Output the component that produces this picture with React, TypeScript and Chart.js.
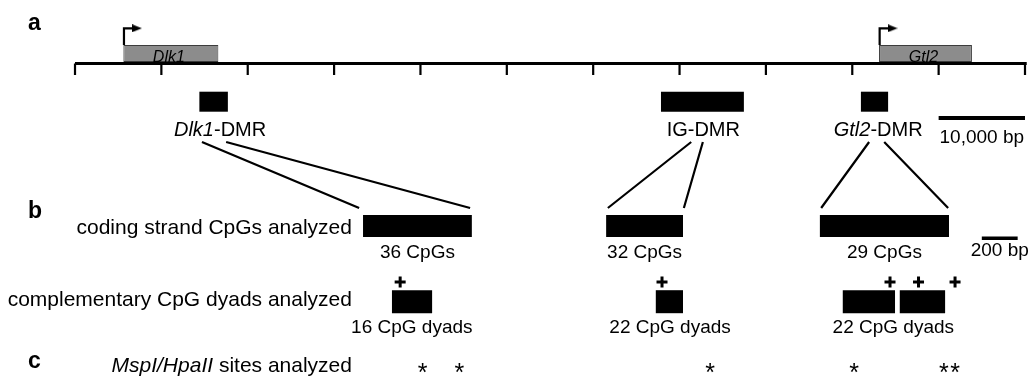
import React, { useEffect, useRef } from 'react';
import { Chart, registerables } from 'chart.js';

Chart.register(...registerables);

// ---------------- DATA (x values in kb along the panel-a ruler axis) ----------------
const rulerTicksKb = [0, 10, 20, 30, 40, 50, 60, 70, 80, 90, 100, 110];

const geneNames = ['Dlk1', 'Gtl2'];
const geneStartKb = [5.6, 93.1];
const geneEndKb = [16.6, 103.85];

const dmrNames = ['Dlk1-DMR', 'IG-DMR', 'Gtl2-DMR'];
const dmrStartKb = [14.4, 67.85, 91.0];
const dmrEndKb = [17.7, 77.45, 94.15];
const dmrLabelKb = [16.8, 72.75, 93.0];

const scaleBarKb = [100, 110];
const scaleBarLabel = '10,000 bp';

const connectorTopKb = [14.7, 17.5, 71.35, 72.7, 91.95, 93.7];
const connectorBottomKb = [32.9, 45.75, 61.7, 70.5, 86.4, 101.1];

const codingCounts = ['36 CpGs', '32 CpGs', '29 CpGs'];
const codingStartKb = [33.35, 61.5, 86.25];
const codingEndKb = [45.95, 70.4, 101.2];

const zoomBarKb = [105.0, 109.15];
const zoomBarLabel = '200 bp';

const dyadCounts = ['16 CpG dyads', '22 CpG dyads', '22 CpG dyads'];
const dyadStartKb = [36.7, 67.25, 88.9, 95.5];
const dyadEndKb = [41.35, 70.4, 94.95, 100.75];
const dyadLabelKb = [39.0, 68.9, 94.75];
const plusSitesKb = [37.65, 67.97, 94.37, 97.67, 101.9];

const mspSitesKb = [40.26, 44.5, 73.53, 90.2, 100.62, 101.9];

const panelLetters = ['a', 'b', 'c'];
const rowLabels = ['coding strand CpGs analyzed', 'complementary CpG dyads analyzed', 'MspI/HpaII sites analyzed'];
const rowLabelItalic = ['', '', 'MspI/HpaII'];

// ---------------- LAYOUT / STYLE ----------------
const W = 1031;
const H = 380;
const X_MIN = -8.685;
const X_MAX = 110.695;
const LETTER_KB = -5.44;
const ROW_LABEL_KB = 32.07;
const ARROW_X_KB = 0.07;
const ARROW_ARM_KB = 1.16;
const ARROW_HEAD_KB = 1.5;

const Y = {
  arrow: 28.3,
  geneTop: 45,
  gene: 53.5,
  geneLabel: 62,
  ruler: 63.5,
  tickEnd: 75,
  dmr: 101.7,
  dmrLabel: 136,
  scaleBar: 118,
  scaleLabel: 142.5,
  connTop: 142,
  connBottom: 208,
  coding: 226,
  codingCount: 257.5,
  zoomBar: 238.3,
  zoomLabel: 255.5,
  plus: 282,
  dyad: 301.7,
  dyadCount: 333,
  msp: 368,
};
const letterY = [30, 218, 368];
const rowLabelY = [233.5, 306, 372];

const INK = '#000000';
const GENE_FILL = '#8c8c8c';
const GENE_EDGE = '#3c3c3c';
const FONT = "'Liberation Sans', Arial, Helvetica, sans-serif";

type Seg = { t: string; it?: boolean; bold?: boolean };

const fontOf = (s: Seg, size: number) => `${s.it ? 'italic ' : ''}${s.bold ? 'bold ' : ''}${size}px ${FONT}`;

function drawRich(ctx: CanvasRenderingContext2D, segs: Seg[], size: number, x: number, y: number, align: 'left' | 'center' | 'right') {
  const widths = segs.map((s) => {
    ctx.font = fontOf(s, size);
    return ctx.measureText(s.t).width;
  });
  const total = widths.reduce((a, b) => a + b, 0);
  let cx = align === 'center' ? x - total / 2 : align === 'right' ? x - total : x;
  ctx.textAlign = 'left';
  ctx.textBaseline = 'alphabetic';
  segs.forEach((s, i) => {
    ctx.font = fontOf(s, size);
    ctx.fillText(s.t, cx, y);
    cx += widths[i];
  });
}

function splitItalic(text: string, italicPart: string): Seg[] {
  if (italicPart && text.startsWith(italicPart)) {
    return [{ t: italicPart, it: true }, { t: text.slice(italicPart.length) }];
  }
  return [{ t: text }];
}

const gap = (x: number) => ({ x, y: null as any });

const textPlugin = {
  id: 'diagramText',
  afterDatasetsDraw(chart: any) {
    const ctx: CanvasRenderingContext2D = chart.ctx;
    const px = (v: number) => chart.scales.x.getPixelForValue(v);
    const py = (v: number) => chart.scales.y.getPixelForValue(v);
    ctx.save();
    ctx.fillStyle = INK;

    panelLetters.forEach((l, i) => drawRich(ctx, [{ t: l, bold: true }], 23, px(LETTER_KB), py(letterY[i]), 'left'));
    rowLabels.forEach((l, i) => drawRich(ctx, splitItalic(l, rowLabelItalic[i]), 21, px(ROW_LABEL_KB), py(rowLabelY[i]), 'right'));

    geneNames.forEach((g, i) =>
      drawRich(ctx, [{ t: g, it: true }], 16, px((geneStartKb[i] + geneEndKb[i]) / 2) - 2, py(Y.geneLabel), 'center'),
    );
    dmrNames.forEach((d, i) => {
      const gene = geneNames.find((g) => d.startsWith(g)) || '';
      drawRich(ctx, splitItalic(d, gene), 20, px(dmrLabelKb[i]), py(Y.dmrLabel), 'center');
    });
    drawRich(ctx, [{ t: scaleBarLabel }], 19, px((scaleBarKb[0] + scaleBarKb[1]) / 2), py(Y.scaleLabel), 'center');
    codingCounts.forEach((c, i) =>
      drawRich(ctx, [{ t: c }], 19, px((codingStartKb[i] + codingEndKb[i]) / 2), py(Y.codingCount), 'center'),
    );
    drawRich(ctx, [{ t: zoomBarLabel }], 19, px((zoomBarKb[0] + zoomBarKb[1]) / 2), py(Y.zoomLabel), 'center');
    dyadCounts.forEach((c, i) => drawRich(ctx, [{ t: c }], 19, px(dyadLabelKb[i]), py(Y.dyadCount), 'center'));

    // asterisks, vertically centred on the row
    ctx.font = `25px ${FONT}`;
    ctx.textAlign = 'center';
    ctx.textBaseline = 'alphabetic';
    const m = ctx.measureText('*');
    const shift = (m.actualBoundingBoxAscent - m.actualBoundingBoxDescent) / 2;
    mspSitesKb.forEach((s) => ctx.fillText('*', px(s), py(Y.msp) + shift));
    ctx.restore();
  },
};

export default function App() {
  const ref = useRef<HTMLCanvasElement | null>(null);

  useEffect(() => {
    if (!ref.current) return;

    const head = document.createElement('canvas');
    head.width = 10;
    head.height = 8;
    const hc = head.getContext('2d')!;
    hc.fillStyle = INK;
    hc.beginPath();
    hc.moveTo(0, 0);
    hc.lineTo(10, 4);
    hc.lineTo(0, 8);
    hc.closePath();
    hc.fill();

    const line = (data: any[], width: number, order = 1) => ({
      type: 'line',
      data,
      borderColor: INK,
      backgroundColor: INK,
      borderWidth: width,
      pointRadius: 0,
      pointHitRadius: 0,
      fill: false,
      tension: 0,
      spanGaps: false,
      borderCapStyle: 'butt',
      borderJoinStyle: 'miter',
      order,
    });

    const bars = (starts: number[], ends: number[], y: number, thickness: number, color: string, border = 0, order = 3) => ({
      type: 'bar',
      indexAxis: 'y',
      grouped: false,
      data: starts.map((s, i) => ({ x: [s, ends[i]], y })),
      barThickness: thickness,
      backgroundColor: color,
      borderColor: GENE_EDGE,
      borderWidth: border,
      borderSkipped: false,
      inflateAmount: 0,
      order,
    });

    const last = rulerTicksKb.length - 1;
    const datasets: any[] = [
      line([{ x: rulerTicksKb[0], y: Y.ruler }, { x: rulerTicksKb[last] + 0.2, y: Y.ruler }], 3, 0),
      line(rulerTicksKb.flatMap((t) => [{ x: t, y: Y.ruler }, { x: t, y: Y.tickEnd }, gap(t)]), 2.2, 0),
      line(
        geneStartKb.flatMap((s) => [
          { x: s + ARROW_X_KB, y: Y.geneTop },
          { x: s + ARROW_X_KB, y: Y.arrow },
          { x: s + ARROW_X_KB + ARROW_ARM_KB, y: Y.arrow },
          gap(s),
        ]),
        2.2,
        0,
      ),
      {
        type: 'scatter',
        data: geneStartKb.map((s) => ({ x: s + ARROW_X_KB + ARROW_HEAD_KB, y: Y.arrow })),
        pointStyle: head,
        pointRadius: 5,
        pointHitRadius: 0,
        showLine: false,
        order: 0,
      },
      line(
        connectorTopKb.flatMap((t, i) => [{ x: t, y: Y.connTop }, { x: connectorBottomKb[i], y: Y.connBottom }, gap(t)]),
        2.2,
        1,
      ),
      {
        type: 'scatter',
        data: plusSitesKb.map((x) => ({ x, y: Y.plus })),
        pointStyle: 'cross',
        pointRadius: 5.5,
        pointBorderWidth: 3,
        pointBorderColor: INK,
        pointBackgroundColor: INK,
        pointHitRadius: 0,
        showLine: false,
        order: 1,
      },
      bars(geneStartKb, geneEndKb, Y.gene, 17, GENE_FILL, 1, 4),
      bars(dmrStartKb, dmrEndKb, Y.dmr, 20, INK),
      bars([scaleBarKb[0]], [scaleBarKb[1]], Y.scaleBar, 4, INK),
      bars(codingStartKb, codingEndKb, Y.coding, 22, INK),
      bars([zoomBarKb[0]], [zoomBarKb[1]], Y.zoomBar, 3.5, INK),
      bars(dyadStartKb, dyadEndKb, Y.dyad, 23, INK),
    ];

    const chart = new Chart(ref.current, {
      type: 'scatter',
      data: { datasets },
      options: {
        animation: false,
        responsive: false,
        devicePixelRatio: 1,
        events: [],
        layout: { padding: 0, autoPadding: false },
        plugins: {
          legend: { display: false },
          tooltip: { enabled: false },
          title: { display: false },
        },
        scales: {
          x: { type: 'linear', display: false, min: X_MIN, max: X_MAX, offset: false, grid: { offset: false } },
          y: { type: 'linear', display: false, min: 0, max: H, reverse: true, offset: false, grid: { offset: false } },
        },
      } as any,
      plugins: [textPlugin as any],
    });

    return () => chart.destroy();
  }, []);

  return (
    <div style={{ position: 'fixed', left: 0, top: 0, width: W, height: H, background: '#ffffff' }}>
      <canvas ref={ref} width={W} height={H} style={{ display: 'block', width: W, height: H }} />
    </div>
  );
}
